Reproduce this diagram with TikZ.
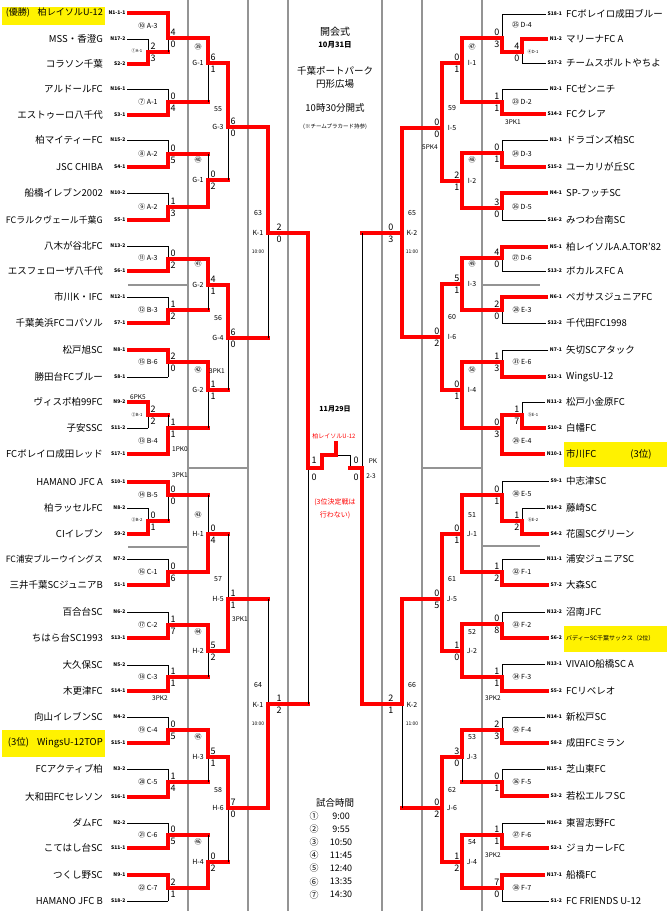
\documentclass[tikz,border=0pt]{standalone}
\usepackage{fontspec}
\setmainfont{Noto Sans CJK JP}
\usepackage{graphicx}
\usetikzlibrary{positioning}
\colorlet{penColor}{red}
\colorlet{gridColor}{black!42}
\colorlet{markColor}{yellow}
\tikzset{
	win/.style={penColor,line width=3.2pt,line cap=rect},
	lose/.style={black,line width=0.8pt},
	divider/.style={gridColor,line width=1.8pt},
	team/.style={font=\fontsize{9.5}{9.5}\selectfont,inner sep=0pt},
	code/.style={font=\fontsize{5}{5}\selectfont\bfseries,inner sep=0pt},
	score/.style={font=\fontsize{9}{9}\selectfont,inner sep=0.4pt},
	bout/.style={font=\fontsize{7}{7}\selectfont,inner sep=0pt},
	mini/.style={font=\fontsize{4.2}{4.2}\selectfont,inner sep=0pt},
	pk/.style={font=\fontsize{6.5}{6.5}\selectfont,inner sep=0pt},
	hilite/.style={fill=markColor,inner sep=0pt,anchor=north west},
	memo/.style={font=\fontsize{9.5}{13}\selectfont,inner sep=0pt,align=center},
}
\newsavebox\namebox
\newcommand{\fitname}[1]{\sbox\namebox{#1}%
	\ifdim\wd\namebox>97pt\resizebox{97pt}{!}{\usebox\namebox}\else\usebox\namebox\fi}
% one round of bouts: score side, score shift, list
\newcommand{\bouts}[3]{%
	\foreach \n/\x/\xo/\ya/\yb/\ym/\sa/\sb/\pa/\pb in {#3}{
		\coordinate (\n) at (\x,\ym);
		\draw[\sa] (\x,\ya) -- (\n);
		\draw[\sb] (\x,\yb) -- (\n);
		\draw[win] (\n) -- (\xo,\ym);
		\node[score,anchor=south #1] (\n-a) at ([xshift=#2,yshift=1.8pt]\n) {\pa};
		\node[score,anchor=north #1] (\n-b) at ([xshift=#2,yshift=-2.2pt]\n) {\pb};
	}}

\begin{document}
\begin{tikzpicture}[x=1pt,y=-1pt]
	\useasboundingbox (0,0) rectangle (670,911);
	
	% grey frame lines
	\foreach \x in {188,248,288,382,422,482}
		\draw[divider] (\x,0) -- (\x,911);
	\draw[divider] (128,285) -- (188,285);
	\draw[divider] (128,547) -- (188,547);
	\draw[divider] (188,468) -- (248,468);
	\draw[divider] (482,285) -- (540,285);
	\draw[divider] (482,546) -- (540,546);
	\draw[divider] (422,468) -- (482,468);
	
	\node[hilite,minimum width=103pt,minimum height=18pt] (firstBox) at (2,7) {};
	\node[hilite,minimum width=103pt,minimum height=27pt] (thirdBoxL) at (2,730) {};
	\node[hilite,minimum width=103pt,minimum height=25pt] (thirdBoxR) at (564,442) {};
	\node[hilite,minimum width=103pt,minimum height=26pt] (secondBox) at (564,626) {};
	
	% left teams
	\foreach \y/\c/\nm/\s/\e [count=\i] in {13/N1-1-1/{(優勝)\hspace{8pt}柏レイソルU-12}/win/168,
		39/N17-2/{MSS・香澄G}/lose/148, 64/S2-2/{コラソン千葉}/win/148,
		89/N16-1/{アルドールFC}/lose/168, 115/S3-1/{エストゥーロ八千代}/win/168,
		140/N15-2/{柏マイティーFC}/lose/168, 167/S4-1/{JSC CHIBA}/win/168,
		193/N10-2/{船橋イレブン2002}/lose/168, 220/S5-1/{FCラルクヴェール千葉G}/win/168,
		246/N13-2/{八木が谷北FC}/lose/168, 271/S6-1/{エスフェローザ八千代}/win/168,
		297/N12-1/{市川K・IFC}/lose/168, 323/S7-1/{千葉美浜FCコパソル}/win/168,
		350/N8-1/{松戸旭SC}/win/168, 377/S8-1/{勝田台FCブルー}/lose/168,
		402/N9-2/{ヴィスポ柏99FC}/win/148, 428/S11-2/{子安SSC}/lose/148,
		454/S17-1/{FCボレイロ成田レッド}/win/168, 482/S10-1/{HAMANO JFC A}/win/168,
		508/N8-2/{柏ラッセルFC}/lose/148, 534/S9-2/{CIイレブン}/win/148,
		559/N7-2/{FC浦安ブルーウイングス}/lose/168, 585/S1-1/{三井千葉SCジュニアB}/win/168,
		612/N6-2/{百合台SC}/lose/168, 638/S13-1/{ちはら台SC1993}/win/168,
		665/N5-2/{大久保SC}/lose/168, 691/S14-1/{木更津FC}/win/168,
		717/N4-2/{向山イレブンSC}/lose/168, 743/S15-1/{(3位)\hspace{8pt}WingsU-12TOP}/win/168,
		769/N3-2/{FCアクティブ柏}/lose/168, 797/S16-1/{大和田FCセレソン}/win/168,
		823/N2-2/{ダムFC}/lose/168, 848/S11-1/{こてはし台SC}/win/168,
		875/N9-1/{つくし野SC}/win/168, 901/S18-2/{HAMANO JFC B}/lose/168}{
		\node[team,anchor=east] (L\i) at (103,\y) {\fitname{\nm}};
		\node[code,anchor=east] (Lc\i) at (125.5,\y) {\c};
		\draw[\s,line cap=butt] ([xshift=1.5pt]Lc\i.east) -- (\e,\y);
	}
	
	% right teams
	\foreach \y/\c/\nm/\s/\e [count=\i] in {14/S18-1/{FCボレイロ成田ブルー}/lose/502,
		39/N1-2/{マリーナFC A}/win/522, 63/S17-2/{チームスポルトやちよ}/lose/522,
		89/N2-1/{FCゼンニチ}/lose/502, 114/S14-2/{FCクレア}/win/502,
		140/N3-1/{ドラゴンズ柏SC}/lose/502, 167/S15-2/{ユーカリが丘SC}/win/502,
		193/N4-1/{SP-フッチSC}/win/502, 220/S16-2/{みつわ台南SC}/lose/502,
		247/N5-1/{柏レイソルA.A.TOR'82}/win/502, 271/S13-2/{ボカルスFC A}/lose/502,
		297/N6-1/{ペガサスジュニアFC}/win/502, 323/S12-2/{千代田FC1998}/lose/502,
		350/N7-1/{矢切SCアタック}/lose/502, 377/S12-1/{WingsU-12}/win/502,
		402/N11-2/{松戸小金原FC}/lose/522, 428/S10-2/{白幡FC}/win/522,
		454/N10-1/{市川FC\hspace{34pt}(3位)}/win/502, 481/S9-1/{中志津SC}/lose/502,
		508/N14-2/{藤崎SC}/lose/522, 534/S4-2/{花園SCグリーン}/win/522,
		559/N11-1/{浦安ジュニアSC}/lose/502, 585/S7-2/{大森SC}/win/502,
		612/N12-2/{沼南JFC}/lose/502, 638/S6-2/{\fontsize{6}{6}\selectfont バディーSC千葉サックス（2位）}/win/502,
		664/N13-1/{VIVAIO船橋SC A}/lose/502, 691/S5-2/{FCリベレオ}/win/502,
		717/N14-1/{新松戸SC}/lose/502, 743/S8-2/{成田FCミラン}/win/502,
		769/N15-1/{芝山東FC}/lose/502, 796/S3-2/{若松エルフSC}/win/502,
		823/N16-2/{東習志野FC}/lose/502, 848/S2-1/{ジョカーレFC}/win/502,
		875/N17-1/{船橋FC}/win/502, 901/S1-2/{FC FRIENDS U-12}/lose/502}{
		\node[team,anchor=west] (R\i) at (566,\y) {\fitname{\nm}};
		\node[code,anchor=east] (Rc\i) at (562,\y) {\c};
		\draw[\s,line cap=butt] ([xshift=-1.5pt]Rc\i.west) -- (\e,\y);
	}
	
	% left bouts
	\bouts{west}{2pt}{pA1/148/168/39/64/52/lose/win/2/3,
		pB1/148/168/402/428/415/win/lose/2/2,
		pB2/148/168/508/534/521/lose/win/0/1,
		mA3a/168/208/13/52/38/win/lose/4/0,
		mA1/168/208/89/115/102/lose/win/0/4,
		mA2a/168/208/140/167/154/lose/win/0/5,
		mA2b/168/208/193/220/207/lose/win/1/3,
		mA3b/168/208/246/271/259/lose/win/0/2,
		mB3/168/208/297/323/310/lose/win/1/2,
		mB6/168/208/350/377/362/win/lose/2/0,
		mB4/168/208/415/454/428/lose/win/1/1,
		mB5/168/208/482/521/495/win/lose/0/0,
		mC1/168/208/559/585/572/lose/win/0/6,
		mC2/168/208/612/638/625/lose/win/1/7,
		mC3/168/208/665/691/677/lose/win/1/1,
		mC4/168/208/717/743/730/lose/win/0/5,
		mC5/168/208/769/797/782/lose/win/1/4,
		mC6/168/208/823/848/835/lose/win/0/5,
		mC7/168/208/875/901/888/win/lose/2/1,
		G1a/208/228/38/102/63/win/lose/6/1,
		G1b/208/228/154/207/180/lose/win/0/2,
		G2a/208/228/259/310/285/win/lose/4/1,
		G2b/208/228/362/428/390/win/lose/1/1,
		H1/208/228/495/572/534/lose/win/0/4,
		H2/208/228/625/677/651/win/lose/5/2,
		H3/208/228/730/782/757/win/lose/5/1,
		H4/208/228/835/888/862/lose/win/0/2,
		G3/228/268/63/180/127/win/lose/6/0,
		G4/228/268/285/390/338/win/lose/6/0,
		H5/228/268/534/651/599/lose/win/1/1,
		H6/228/268/757/862/808/win/lose/7/0}
	\bouts{west}{8pt}{K1a/268/308/127/338/233/win/lose/2/0,
		K1b/268/308/599/808/704/lose/win/1/2}
	
	% right bouts
	\bouts{east}{-2pt}{pD1/522/502/39/63/52/win/lose/4/0,
		pE1/522/502/402/428/415/lose/win/1/7,
		pE2/522/502/508/534/521/lose/win/1/2,
		mD4/502/462/14/52/38/lose/win/0/3,
		mD2/502/462/89/114/102/lose/win/1/1,
		mD3/502/462/140/167/153/lose/win/0/1,
		mD5/502/462/193/220/208/win/lose/3/0,
		mD6/502/462/247/271/258/win/lose/4/0,
		mE3/502/462/297/323/310/win/lose/2/0,
		mE6/502/462/350/377/362/lose/win/1/3,
		mE4/502/462/415/454/428/win/win/0/3,
		mE5/502/462/481/521/495/lose/win/0/1,
		mF1/502/462/559/585/572/lose/win/1/2,
		mF2/502/462/612/638/624/lose/win/0/8,
		mF3/502/462/664/691/677/lose/win/1/1,
		mF4/502/462/717/743/730/lose/win/2/3,
		mF5/502/462/769/796/782/lose/win/0/1,
		mF6/502/462/823/848/835/lose/win/1/1,
		mF7/502/462/875/901/888/win/lose/7/0,
		I1/462/442/38/102/63/win/win/0/1,
		I2/462/442/153/208/181/win/win/2/1,
		I3/462/442/258/310/284/win/win/5/1,
		I4/462/442/362/428/390/win/win/0/1,
		J1/462/442/495/572/534/win/win/0/1,
		J2/462/442/624/677/651/win/win/1/0,
		J3/462/442/730/782/757/win/lose/3/0,
		J4/462/442/835/888/862/win/win/1/2,
		I5/442/402/63/181/128/win/win/0/0,
		I6/442/402/284/390/337/win/win/0/2,
		J5/442/402/534/651/599/win/win/0/5,
		J6/442/402/757/862/808/win/win/0/2}
	\bouts{east}{-8pt}{K2a/402/362/128/337/233/win/win/0/3,
		K2b/402/362/599/808/704/win/lose/2/1}
	
	% semi finals and final
	\coordinate (semiL) at (308,468);
	\coordinate (semiR) at (362,468);
	\coordinate (cup) at (336,455);
	\draw[lose] (308,704) -- (semiL);
	\draw[lose] (362,233) -- (semiR);
	\draw[lose] (350,468) -- (350,455) -- (cup);
	\draw[win] (308,233) -- (semiL);
	\draw[win] (362,704) -- (semiR);
	\draw[win] (semiR) -- (350,468);
	\draw[win] (semiL) -| (322,455) -- (cup) -- (336,443);
	\node[score] (semiL-a) at (314,460) {1};
	\node[score] (semiL-b) at (314,477) {0};
	\node[score] (semiR-a) at (356,460) {0};
	\node[score] (semiR-b) at (356,477) {0};
	\node[pk] (semiR-pk) at (373,461) {PK};
	\node[pk] (semiR-pks) at (371,476) {2-3};
	
	% bout labels
	\foreach \y/\tx [count=\k] in {26/⑩ A-3,102/⑦ A-1,154/⑧ A-2,207/⑨ A-2,258/⑪ A-3,310/⑫ B-3,
		362/⑮ B-6,441/⑬ B-4,495/⑭ B-5,572/⑯ C-1,625/⑰ C-2,677/⑱ C-3,730/⑲ C-4,
		782/⑳ C-5,835/㉑ C-6,888/㉒ C-7}
		\node[bout] (lab\k) at (148,\y) {\tx};
	\foreach \y/\tx [count=\k] in {25/㉕ D-4,102/㉓ D-2,154/㉔ D-3,207/㉖ D-5,258/㉗ D-6,310/㉘ E-3,
		362/㉛ E-6,441/㉙ E-4,494/㉚ E-5,572/㉜ F-1,625/㉝ F-2,677/㉞ F-3,730/㉟ F-4,
		782/㊱ F-5,835/㊲ F-6,888/㊳ F-7}
		\node[bout] (rab\k) at (522,\y) {\tx};
	\foreach \x/\y/\tx [count=\k] in {137/51/①A-1,137/415/②B-1,137/520/③B-2,
		533/52/④D-1,533/415/⑤E-1,533/520/⑥E-2}
		\node[mini] (pre\k) at (\x,\y) {\tx};
	\foreach \x/\ya/\ca/\yb/\cb [count=\k] in {198/47/㊴/63/G-1,198/160/㊵/180/G-1,
		198/264/㊶/285/G-2,198/370/㊷/390/G-2,198/515/㊸/534/H-1,198/632/㊹/651/H-2,
		198/737/㊺/757/H-3,198/842/㊻/862/H-4,218/109/55/127/G-3,218/318/56/338/G-4,
		218/579/57/599/H-5,218/790/58/808/H-6,
		472/47/㊼/63/I-1,472/160/㊽/181/I-2,472/264/㊾/284/I-3,472/370/㊿/390/I-4,
		472/515/51/534/J-1,472/632/52/651/J-2,472/737/53/757/J-3,472/842/54/862/J-4,
		452/108/59/128/I-5,452/317/60/337/I-6,452/579/61/599/J-5,452/790/62/808/J-6}{
		\node[bout] (no\k) at (\x,\ya) {\ca};
		\node[bout] (rd\k) at (\x,\yb) {\cb};
	}
	\foreach \x/\ya/\nb/\kk/\tm [count=\k] in {258/213/63/K-1/10:00,258/685/64/K-1/10:00,
		412/213/65/K-2/11:00,412/685/66/K-2/11:00}{
		\node[bout] (kno\k) at (\x,\ya) {\nb};
		\node[bout] (kk\k) at (\x,\ya+20) {\kk};
		\node[bout,font=\fontsize{5}{5}\selectfont] (kt\k) at (\x,\ya+39) {\tm};
	}
	\foreach \x/\y/\tx [count=\k] in {138/397/6PK5,180/449/1PK0,180/475/3PK1,217/371/3PK1,
		240/619/3PK1,160/698/3PK2,513/122/3PK1,430/147/5PK4,493/698/3PK2,493/855/3PK2}
		\node[pk] (pk\k) at (\x,\y) {\tx};
	
	% notes in the middle
	\node[memo,font=\fontsize{10}{10}\selectfont] (opening) at (335,32) {開会式};
	\node[memo,font=\fontsize{7.5}{8}\selectfont\bfseries] (openDay) at (335,45) {10月31日};
	\node[memo] (venue) at (335,77.5) {千葉ポートパーク\\円形広場};
	\node[memo] (startTime) at (335,108) {10時30分開式};
	\node[memo,font=\fontsize{5.5}{6}\selectfont] (placard) at (335,127) {(※チームプラカード持参)};
	\node[memo,font=\fontsize{7}{8}\selectfont\bfseries] (finalDay) at (335,409) {11月29日};
	\node[memo,font=\fontsize{6}{6}\selectfont,text=penColor] (champion) at (334,436) {柏レイソルU-12};
	\node[memo,font=\fontsize{7}{13}\selectfont,text=penColor] (noThird) at (335,508.5) {(3位決定戦は\\行わない)};
	\node[memo] (timeTitle) at (335,803) {試合時間};
	\foreach \c/\tm [count=\k] in {①/9:00,②/9:55,③/10:50,④/11:45,⑤/12:40,⑥/13:35,⑦/14:30}{
		\node[memo,font=\fontsize{9}{9}\selectfont] (slot\k) at (314,803+13.1*\k) {\c};
		\node[memo,font=\fontsize{9}{9}\selectfont] (clock\k) at (341,803+13.1*\k) {\tm};
	}
\end{tikzpicture}
\end{document}
